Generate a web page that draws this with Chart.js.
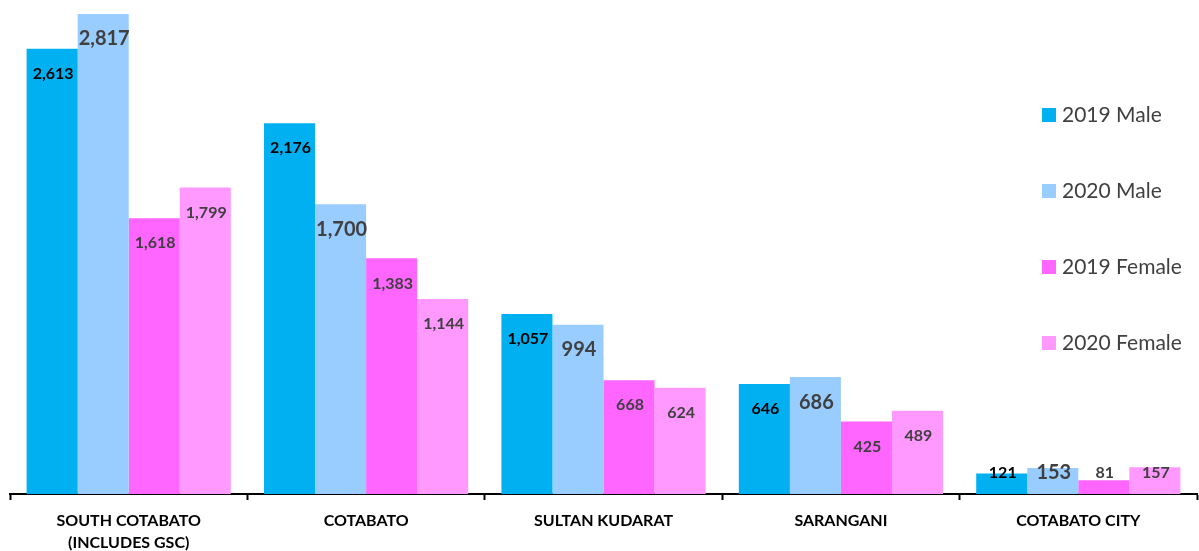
<!DOCTYPE html>
<html>
<head>
<meta charset="utf-8">
<script src="https://cdn.jsdelivr.net/npm/chart.js@4"></script>
<style>
  html, body { margin: 0; padding: 0; background: #fff; }
  #wrap { width: 1199px; height: 551px; }
</style>
</head>
<body>
<div id="wrap"><canvas id="chart" width="1199" height="551"></canvas></div>
<script>
// categories and series
var provinces = [["SOUTH COTABATO", "(INCLUDES GSC)"], "COTABATO", "SULTAN KUDARAT", "SARANGANI", "COTABATO CITY"];
var seriesNames = ["2019 Male", "2020 Male", "2019 Female", "2020 Female"];
var male2019 = [2613, 2176, 1057, 646, 121];
var male2020 = [2817, 1700, 994, 686, 153];
var female2019 = [1618, 1383, 668, 425, 81];
var female2020 = [1799, 1144, 624, 489, 157];

var colors = ["#00B0F0", "#99CCFF", "#FF66FF", "#FF99FF"];
var fontName = "Lato, 'Open Sans', sans-serif";

// ---- value labels inside the bars ----
var valueLabels = {
  id: "valueLabels",
  afterDatasetsDraw: function (chart) {
    var ctx = chart.ctx;
    var fmt = new Intl.NumberFormat("en-US");
    ctx.save();
    ctx.textAlign = "center";
    ctx.textBaseline = "middle";
    chart.data.datasets.forEach(function (ds, i) {
      var meta = chart.getDatasetMeta(i);
      meta.data.forEach(function (bar, j) {
        var big = i == 1;
        ctx.font = "bold " + (big ? 20 : 16) + "px " + fontName;
        ctx.fillStyle = i == 0 ? "#000000" : "#404040";
        var y = Math.min(bar.y + 25, chart.chartArea.bottom - 21);
        ctx.fillText(fmt.format(ds.data[j]), bar.x + 1, y);
      });
    });
    ctx.restore();
  }
};

// ---- category names under the axis ----
var categoryLabels = {
  id: "categoryLabels",
  afterDraw: function (chart) {
    var ctx = chart.ctx;
    var xs = chart.scales.x;
    var base = chart.chartArea.bottom;
    ctx.save();
    ctx.font = "bold 16px " + fontName;
    ctx.fillStyle = "#000000";
    ctx.textAlign = "center";
    ctx.textBaseline = "middle";
    chart.data.labels.forEach(function (lab, j) {
      var lines = Array.isArray(lab) ? lab : [lab];
      var x = xs.getPixelForValue(j);
      lines.forEach(function (t, k) {
        ctx.fillText(t, x, base + 27 + k * 22);
      });
    });
    ctx.restore();
  }
};

// ---- legend on the right, over the plot ----
var sideLegend = {
  id: "sideLegend",
  afterDraw: function (chart) {
    var ctx = chart.ctx;
    ctx.save();
    ctx.font = "21px " + fontName;
    ctx.textBaseline = "middle";
    ctx.textAlign = "left";
    chart.data.datasets.forEach(function (ds, i) {
      var y = 115 + i * 76;
      ctx.fillStyle = ds.backgroundColor;
      ctx.fillRect(1042, y - 7, 14, 14);
      ctx.fillStyle = "#404040";
      ctx.fillText(ds.label, 1062, y);
    });
    ctx.restore();
  }
};

var ctx = document.getElementById("chart").getContext("2d");

var chart = new Chart(ctx, {
  type: "bar",
  data: {
    labels: provinces,
    datasets: [
      { label: seriesNames[0], data: male2019, backgroundColor: colors[0] },
      { label: seriesNames[1], data: male2020, backgroundColor: colors[1] },
      { label: seriesNames[2], data: female2019, backgroundColor: colors[2] },
      { label: seriesNames[3], data: female2020, backgroundColor: colors[3] },
    ],
  },
  options: {
    responsive: false,
    animation: false,
    layout: { padding: { left: 10, right: 2, top: 14, bottom: 51 } },
    datasets: {
      bar: { categoryPercentage: 0.86, barPercentage: 1.0 }
    },
    plugins: {
      legend: { display: false },
      tooltip: { enabled: false },
    },
    scales: {
      y: {
        display: false,
        min: 0,
        max: 2817,
      },
      x: {
        grid: {
          display: true,
          drawOnChartArea: false,
          offset: true,
          tickLength: 6,
          tickWidth: 2,
          tickColor: "#000000",
        },
        border: { display: true, color: "#000000", width: 2 },
        ticks: { display: false },
      },
    },
  },
  plugins: [valueLabels, categoryLabels, sideLegend],
});
</script>
</body>
</html>
